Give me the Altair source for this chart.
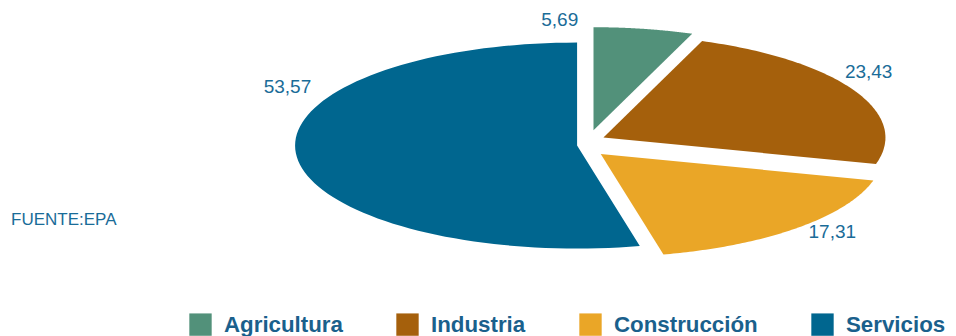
import altair as alt
import numpy as np
import pandas as pd

# ---- data ----
categories = ["Agricultura", "Industria", "Construcción", "Servicios"]
values = [5.69, 23.43, 17.31, 53.57]
value_labels = ["5,69", "23,43", "17,31", "53,57"]
colors = ["#52917a", "#a5600c", "#eaa627", "#00668f"]
source_note = "FUENTE:EPA"

# ---- layout constants (pixels, chart coordinates) ----
W, H = 940, 328
CX, CY = 583, 136          # ellipse centre
A, B = 282, 103            # horizontal / vertical radius (flattened 3-D pie)
EXPLODE = 14               # slice explosion
LABEL_R = 1.21             # label radius factor
N = 90                     # points along each arc
label_shift = {"Agricultura": -15.5, "Industria": -8.2, "Construcción": -1.0, "Servicios": 33.6}

# ---- tables built from the arrays ----
vals = np.array(values, dtype=float)
ends = np.cumsum(vals) / vals.sum()
starts = ends - vals / vals.sum()

rows = []
for k, cat in enumerate(categories):
    rows.append({"cat": cat, "start": starts[k], "end": ends[k], "u": 0.0, "r": 0, "i": 0})
    for j in range(N + 1):
        rows.append({"cat": cat, "start": starts[k], "end": ends[k], "u": j / N, "r": 1, "i": j + 1})
    rows.append({"cat": cat, "start": starts[k], "end": ends[k], "u": 1.0, "r": 0, "i": N + 2})
pie_df = pd.DataFrame(rows)

lab_df = pd.DataFrame({"cat": categories, "label": value_labels, "start": starts, "end": ends})

xs = alt.Scale(domain=[0, W], nice=False, zero=False)
ys = alt.Scale(domain=[H, 0], nice=False, zero=False)

pie = (
    alt.Chart(pie_df)
    .transform_calculate(
        theta="2*PI*(datum.start + (datum.end - datum.start)*datum.u)",
        mid="PI*(datum.start + datum.end)",
    )
    .transform_calculate(
        x=f"{CX} + {EXPLODE}*sin(datum.mid) + {A}*datum.r*sin(datum.theta)",
        y=f"{CY} - {EXPLODE}*cos(datum.mid) - {B}*datum.r*cos(datum.theta)",
    )
    .mark_line(filled=True, strokeWidth=0, interpolate="linear")
    .encode(
        x=alt.X("x:Q", scale=xs, axis=None),
        y=alt.Y("y:Q", scale=ys, axis=None),
        color=alt.Color(
            "cat:N",
            scale=alt.Scale(domain=categories, range=colors),
            legend=alt.Legend(
                title=None,
                orient="none",
                legendX=181,
                legendY=305,
                direction="horizontal",
                symbolType="square",
                symbolSize=500,
                symbolStrokeWidth=0,
                symbolOpacity=1,
                labelFont="Liberation Sans",
                labelFontSize=22.3,
                labelFontWeight="bold",
                labelColor="#1a608c",
                labelOffset=12,
                labelLimit=300,
                columnPadding=53,
                padding=0,
            ),
        ),
        order=alt.Order("i:Q"),
    )
)

shift_expr = "{" + ",".join(f"'{k}': {v}" for k, v in label_shift.items()) + "}[datum.cat]"

labels = (
    alt.Chart(lab_df)
    .transform_calculate(shift=shift_expr)
    .transform_calculate(la="PI*(datum.start + datum.end) + datum.shift*PI/180")
    .transform_calculate(
        lx=f"{CX} + {LABEL_R}*{A}*sin(datum.la)",
        ly=f"{CY} - {LABEL_R}*{B}*cos(datum.la)",
    )
    .mark_text(font="Liberation Sans", fontSize=19, color="#1a6c98", align="center", baseline="middle")
    .encode(
        x=alt.X("lx:Q", scale=xs, axis=None),
        y=alt.Y("ly:Q", scale=ys, axis=None),
        text="label:N",
    )
)

note = (
    alt.Chart(pd.DataFrame({"t": [source_note]}))
    .mark_text(font="Liberation Sans", fontSize=17, color="#1a6c98", align="left", baseline="middle")
    .encode(x=alt.value(3), y=alt.value(211.5), text="t:N")
)

chart = (
    alt.layer(pie, labels, note)
    .properties(width=W, height=H, padding=0, autosize=alt.AutoSizeParams(type="none"), background="white")
    .configure_view(stroke=None)
)

chart.save("out.html", embed_options={"renderer": "svg", "actions": False})
